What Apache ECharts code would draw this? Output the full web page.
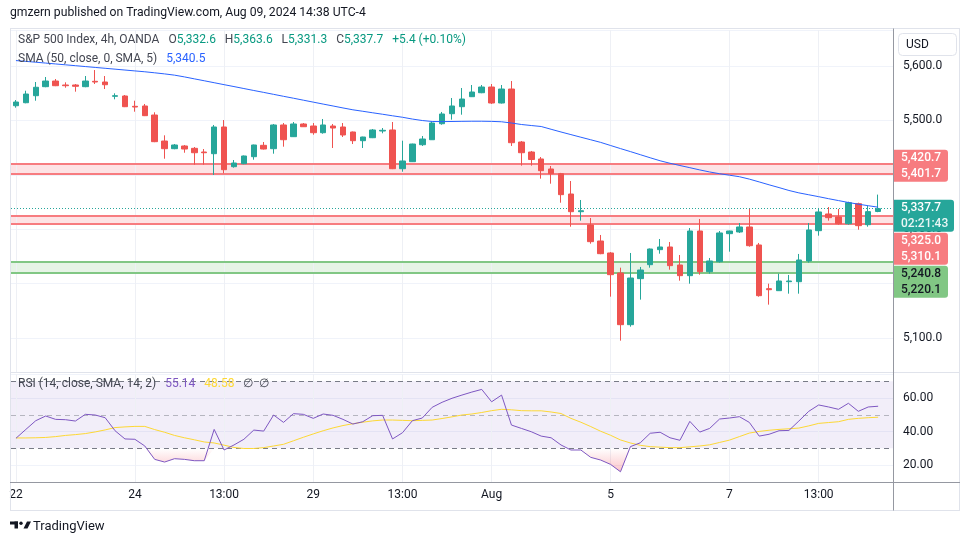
<!DOCTYPE html>
<html><head><meta charset="utf-8">
<script src="https://cdn.jsdelivr.net/npm/echarts@6/dist/echarts.min.js"></script>
<style>html,body{margin:0;padding:0;background:#fff;}#c{width:970px;height:545px;}</style>
</head><body><div id="c"></div>
<script>
// ---------- data ----------
const dayNames = ['Jul 22','Jul 23','Jul 24','Jul 25','Jul 26','Jul 29','Jul 30','Jul 31','Aug 1','Aug 2','Aug 5','Aug 6','Aug 7','Aug 8','Aug 9'];
const barHours = ['01:00','05:00','09:00','13:00','17:00','21:00'];

const opens = [5527.0,5532.5,5545.4,5562.0,5572.4,5565.1,5565.1,5562.0,5571.9,5570.6,
5544.3,5544.9,5525.9,5526.5,5509.9,5462.1,5448.0,5453.0,5448.7,5441.9,
5438.8,5487.9,5414.9,5420.4,5433.3,5454.2,5448.0,5491.6,5470.1,5493.4,
5489.7,5477.4,5489.7,5487.9,5478.7,5462.7,5468.2,5480.5,5482.4,5411.2,
5424.1,5455.3,5464.5,5493.9,5512.3,5525.2,5543.6,5550.9,5561.4,5532.0,
5557.7,5460.3,5441.9,5429.1,5410.7,5402.0,5364.7,5332.2,5307.8,5278.3,
5256.3,5219.5,5124.5,5209.1,5234.8,5262.4,5267.3,5234.2,5214.6,5296.7,
5221.9,5240.3,5291.8,5294.9,5304.1,5271.0,5190.7,5187.0,5203.5,5203.5,
5241.6,5297.3,5328.0,5322.5,5310.1,5346.9,5308.3,5332.6];
const highs = [5537.5,5554.6,5570.6,5579.8,5576.1,5570.0,5566.9,5581.6,5592.6,5581.6,
5549.8,5546.7,5536.2,5530.2,5514.9,5472.6,5456.6,5454.8,5451.1,5447.4,
5491.6,5500.7,5427.2,5435.5,5455.5,5460.3,5493.4,5495.2,5497.1,5495.2,
5495.2,5502.6,5493.4,5495.2,5479.5,5470.0,5484.2,5486.0,5497.1,5462.7,
5457.2,5471.3,5497.6,5515.5,5541.2,5559.6,5565.1,5565.1,5566.9,5565.1,
5572.4,5462.1,5443.8,5432.7,5416.2,5403.5,5388.6,5353.7,5320.6,5289.4,
5258.0,5229.3,5256.3,5230.6,5264.5,5282.0,5276.5,5252.6,5302.2,5318.8,
5247.1,5296.7,5297.2,5311.4,5337.2,5274.7,5199.9,5218.2,5215.9,5254.5,
5311.4,5339.0,5340.8,5337.2,5350.6,5348.7,5342.7,5363.6];
const lows = [5523.4,5531.5,5536.2,5561.0,5563.0,5560.1,5552.8,5561.0,5566.9,5557.7,
5538.8,5524.5,5516.0,5508.0,5460.0,5429.6,5447.0,5440.6,5418.6,5418.6,
5399.7,5402.8,5413.1,5419.5,5427.8,5446.5,5438.8,5451.7,5469.5,5488.0,
5473.7,5475.6,5449.3,5469.5,5456.6,5449.3,5467.5,5476.3,5410.5,5405.7,
5423.5,5453.0,5464.0,5492.1,5501.3,5510.5,5543.0,5550.0,5530.2,5531.0,
5453.0,5416.8,5416.8,5392.9,5383.7,5348.7,5304.6,5315.7,5273.4,5254.0,
5176.0,5095.1,5120.8,5170.5,5229.3,5255.0,5225.6,5205.4,5199.9,5216.4,
5218.2,5238.5,5258.7,5293.1,5267.9,5176.0,5161.3,5186.5,5181.5,5181.5,
5238.5,5288.1,5315.7,5308.3,5308.3,5299.1,5304.6,5331.3];
const closes = [5533.8,5548.5,5560.9,5572.4,5563.8,5563.8,5562.7,5572.4,5570.6,5565.6,
5545.4,5525.2,5524.6,5508.7,5460.9,5448.0,5454.8,5447.4,5440.6,5440.6,
5487.9,5409.4,5421.7,5434.6,5454.8,5447.4,5491.6,5464.5,5493.4,5488.4,
5477.4,5491.6,5486.0,5473.2,5462.7,5469.5,5482.4,5481.8,5411.2,5425.4,
5456.6,5465.8,5495.2,5511.8,5526.5,5539.3,5552.2,5561.4,5532.0,5557.7,
5459.0,5440.6,5428.1,5407.6,5402.0,5363.5,5332.2,5334.0,5277.1,5255.0,
5216.4,5124.5,5210.3,5225.0,5263.6,5267.3,5233.0,5214.6,5296.7,5221.9,
5241.6,5293.1,5296.7,5304.1,5269.7,5177.8,5188.8,5204.8,5204.8,5243.4,
5298.6,5331.7,5321.2,5310.1,5348.7,5306.5,5332.3,5337.7];
const sma50 = [5610.0,5608.5,5607.0,5605.4,5603.8,5602.2,5600.6,5599.0,5597.4,5595.8,
5594.2,5592.6,5591.0,5589.4,5587.5,5585.5,5583.2,5580.0,5576.4,5572.9,
5569.3,5565.7,5562.2,5558.6,5555.0,5551.5,5547.9,5544.3,5540.8,5537.2,
5533.6,5530.0,5526.5,5522.9,5519.5,5516.8,5514.0,5511.3,5508.5,5505.8,
5502.5,5499.8,5498.0,5497.8,5498.0,5498.3,5498.5,5498.5,5498.2,5497.5,
5495.2,5492.5,5490.6,5488.8,5483.7,5478.7,5473.9,5469.1,5464.4,5459.6,
5453.9,5448.2,5442.7,5437.0,5431.3,5425.8,5421.2,5417.1,5413.1,5409.0,
5405.2,5402.0,5399.3,5396.5,5392.1,5386.9,5381.6,5376.5,5371.2,5366.8,
5363.3,5359.8,5356.1,5352.6,5349.1,5346.0,5343.2,5340.5];
const rsi = [36.0,41.3,46.5,49.3,47.3,47.1,46.3,50.3,49.9,48.3,
40.5,35.6,35.4,31.4,23.4,21.8,23.8,23.4,22.6,22.6,
41.3,29.0,32.0,35.4,40.9,40.3,49.9,45.5,50.7,50.3,
47.9,50.5,49.7,47.3,44.5,45.9,49.5,49.7,35.6,39.3,
46.5,48.1,54.5,57.5,59.9,61.8,63.6,65.2,57.8,61.8,
43.9,41.9,39.9,37.3,36.3,32.0,29.0,29.0,24.6,23.0,
20.4,16.0,31.0,33.3,39.0,39.6,36.3,34.8,46.1,39.7,
41.9,47.5,48.1,48.9,45.5,37.3,38.4,40.5,40.7,46.3,
52.1,55.9,54.7,53.3,56.9,52.1,54.7,55.14];
const rsiMA = [36.2,36.2,36.3,36.5,37.0,37.7,38.2,38.8,39.8,41.0,
42.4,42.8,43.1,43.1,41.2,39.6,37.7,36.3,35.1,33.8,
33.2,31.9,30.5,29.9,29.9,30.4,31.4,32.4,34.5,36.6,
38.6,40.5,42.2,43.6,44.7,45.6,46.4,46.9,46.9,46.7,
46.5,46.7,46.9,47.8,48.8,49.9,50.5,51.4,52.5,53.3,
53.0,52.5,52.4,52.4,51.7,50.8,47.9,45.6,43.0,40.2,
37.8,35.0,33.2,31.8,31.0,30.7,30.4,30.4,30.9,31.4,
32.1,33.5,34.9,37.0,39.1,40.1,40.8,41.3,41.7,42.1,
43.4,44.9,45.4,45.9,47.3,47.9,48.3,48.58];

const tickIndex = [0,12,21,30,39,48,60,72,81];
const tickText = ['22','24','13:00','29','13:00','Aug','5','7','13:00'];
const resistanceZone = [5401.7, 5420.7];
const supportZone1 = [5310.1, 5325.0];
const supportZone2 = [5220.1, 5240.8];
const rsiLevels = [70, 50, 30];
const countdown = '02:21:43';

// ---------- build ----------
const categories = [];
for (const d of dayNames) for (const h of barHours) if (categories.length < opens.length) categories.push(d + ' ' + h);
categories.push('');
const n = opens.length;
const lastPrice = closes[n - 1];
const candleData = opens.map((o, i) => [o, closes[i], lows[i], highs[i]]);
const osBase = rsi.map(v => Math.min(v, 30));
const osFill = rsi.map(v => +(30 - Math.min(v, 30)).toFixed(2));

const FONT = 'Roboto, "Noto Sans", sans-serif';
const fmtP = v => v.toLocaleString('en-US', {minimumFractionDigits: 1, maximumFractionDigits: 1});
const GREEN = '#26a69a', RED = '#ef5350', ZRED = '#f77c80', ZGREEN = '#81c784';

const vGrid = tickIndex.map(i => ({xAxis: categories[i], lineStyle: {color: '#eef0f5', width: 1, type: 'solid'}}));
const zoneLines = (z, c) => z.map(v => ({yAxis: v, lineStyle: {color: c, width: 2, type: 'solid'}}));

const chart = echarts.init(document.getElementById('c'), null, {renderer: 'canvas'});
const option = {
  animation: false,
  backgroundColor: '#ffffff',
  textStyle: {fontFamily: FONT},
  grid: [
    {left: 11, top: 30, width: 882, height: 342},
    {left: 11, top: 374, width: 882, height: 108.3}
  ],
  xAxis: [
    {gridIndex: 0, type: 'category', data: categories, boundaryGap: true,
     axisLine: {show: false}, axisTick: {show: false}, axisLabel: {show: false}, splitLine: {show: false}},
    {gridIndex: 1, type: 'category', data: categories, boundaryGap: true,
     axisLine: {show: false}, axisTick: {show: false}, splitLine: {show: false},
     axisLabel: {interval: (idx) => tickIndex.includes(idx), formatter: (v, idx) => tickText[tickIndex.indexOf(idx)] || '',
       color: '#131722', fontSize: 12, margin: 7, fontFamily: FONT}}
  ],
  yAxis: [
    {gridIndex: 0, type: 'value', position: 'right', min: 5037.5, max: 5666.2, splitNumber: 6,
     axisLine: {show: false}, axisTick: {show: false},
     axisLabel: {color: '#131722', fontSize: 12, margin: 10, fontFamily: FONT, formatter: v => fmtP(v), showMinLabel: false, showMaxLabel: false},
     splitLine: {lineStyle: {color: '#f0f3fa', width: 1}}},
    {gridIndex: 1, type: 'value', position: 'right', min: 9.7, max: 74.4, splitNumber: 3,
     axisLine: {show: false}, axisTick: {show: false},
     axisLabel: {color: '#131722', fontSize: 12, margin: 10, fontFamily: FONT, formatter: v => v.toFixed(2), showMinLabel: false, showMaxLabel: false},
     splitLine: {lineStyle: {color: '#f0f3fa', width: 1}}}
  ],
  series: [
    {type: 'candlestick', name: 'S&P 500', xAxisIndex: 0, yAxisIndex: 0, data: candleData, barWidth: 6, z: 3,
     itemStyle: {color: GREEN, color0: RED, borderColor: GREEN, borderColor0: RED, borderWidth: 1},
     markArea: {silent: true, z: 1, data: [
       [{yAxis: resistanceZone[0], itemStyle: {color: 'rgba(242,54,69,0.14)'}}, {yAxis: resistanceZone[1]}],
       [{yAxis: supportZone1[0], itemStyle: {color: 'rgba(242,54,69,0.14)'}}, {yAxis: supportZone1[1]}],
       [{yAxis: supportZone2[0], itemStyle: {color: 'rgba(76,175,80,0.14)'}}, {yAxis: supportZone2[1]}]
     ]},
     markLine: {silent: true, z: 1, symbol: ['none', 'none'], label: {show: false}, data: [
       ...vGrid,
       ...zoneLines(resistanceZone, ZRED), ...zoneLines(supportZone1, ZRED), ...zoneLines(supportZone2, ZGREEN),
       {yAxis: lastPrice, lineStyle: {color: GREEN, width: 1, type: [1, 2]}}
     ]}},
    {type: 'line', name: 'SMA 50', xAxisIndex: 0, yAxisIndex: 0, data: sma50, symbol: 'none', z: 4,
     lineStyle: {color: '#2962ff', width: 1}},
    {type: 'line', name: 'RSI', xAxisIndex: 1, yAxisIndex: 1, data: rsi, symbol: 'none', z: 5,
     lineStyle: {color: '#7e57c2', width: 1},
     markArea: {silent: true, z: 1, data: [[{yAxis: 30, itemStyle: {color: 'rgba(126,87,194,0.1)'}}, {yAxis: 70}]]},
     markLine: {silent: true, z: 2, symbol: ['none', 'none'], label: {show: false}, data: [
       ...vGrid,
       {yAxis: rsiLevels[0], lineStyle: {color: '#787b86', width: 1, type: [5, 4]}},
       {yAxis: rsiLevels[1], lineStyle: {color: 'rgba(120,123,134,0.5)', width: 1, type: [5, 4]}},
       {yAxis: rsiLevels[2], lineStyle: {color: '#787b86', width: 1, type: [5, 4]}}
     ]}},
    {type: 'line', name: 'RSI MA', xAxisIndex: 1, yAxisIndex: 1, data: rsiMA, symbol: 'none', z: 4,
     lineStyle: {color: '#fdd835', width: 1}},
    {type: 'line', name: 'osBase', xAxisIndex: 1, yAxisIndex: 1, data: osBase, stack: 'os', symbol: 'none', z: 3,
     lineStyle: {opacity: 0}, silent: true},
    {type: 'line', name: 'osFill', xAxisIndex: 1, yAxisIndex: 1, data: osFill, stack: 'os', symbol: 'none', z: 3,
     lineStyle: {opacity: 0}, silent: true, areaStyle: {color: 'rgba(242,54,69,0.2)'}}
  ]
};
chart.setOption(option);

// ---------- overlays ----------
const py = v => chart.convertToPixel({yAxisIndex: 0}, v);
const ry = v => chart.convertToPixel({yAxisIndex: 1}, v);
const y30 = ry(30), y0 = ry(0);

const tags = [
  {lines: [fmtP(resistanceZone[1]), fmtP(resistanceZone[0])], bg: ZRED, fg: '#ffffff', w: 54, center: (py(resistanceZone[0]) + py(resistanceZone[1])) / 2 - 3},
  {lines: [fmtP(lastPrice), countdown], bg: GREEN, fg: '#ffffff', w: 60, center: py(lastPrice) + 7, fixed: true},
  {lines: [fmtP(supportZone1[1]), fmtP(supportZone1[0])], bg: ZRED, fg: '#ffffff', w: 54, center: (py(supportZone1[0]) + py(supportZone1[1])) / 2 - 3},
  {lines: [fmtP(supportZone2[1]), fmtP(supportZone2[0])], bg: ZGREEN, fg: '#131722', w: 54, center: (py(supportZone2[0]) + py(supportZone2[1])) / 2 - 3}
];
const H = 32;
let prevBottom = -1e9;
const tagEls = [];
tags.forEach(t => {
  let top = t.center - H / 2;
  if (top < prevBottom + 1) top = prevBottom + 1;
  prevBottom = top + H;
  tagEls.push({type: 'rect', z: 100, shape: {x: 894, y: top, width: t.w, height: H, r: [0, 3, 3, 0]}, style: {fill: t.bg}});
  t.lines.forEach((s, k) => tagEls.push({type: 'text', z: 101, x: 901, y: top + 8.5 + k * 16,
    style: {text: s, fill: t.fg, font: '500 12px ' + FONT, verticalAlign: 'middle', opacity: (t.fixed && k === 1) ? 0.9 : 1}}));
});

const chg = closes[n - 1] - closes[n - 2];
const pct = chg / closes[n - 2] * 100;
const sgn = chg >= 0 ? '+' : '';
const line = (x1, y1, x2, y2, c) => ({type: 'line', z: 90, shape: {x1, y1, x2, y2}, style: {stroke: c, lineWidth: 1}});
const LF = '12px ' + FONT;
const G = '   ';

chart.setOption({
  series: [{}, {}, {}, {}, {}, {
    areaStyle: {color: {type: 'linear', x: 0, y: y30, x2: 0, y2: y0, global: true,
      colorStops: [{offset: 0, color: 'rgba(242,54,69,0)'}, {offset: 1, color: 'rgba(242,54,69,0.9)'}]}}
  }],
  graphic: [
    line(10.5, 28.5, 10.5, 510.5, '#e0e3eb'),
    line(10, 28.5, 960, 28.5, '#e0e3eb'),
    line(959.5, 28.5, 959.5, 510.5, '#e0e3eb'),
    line(10, 510.5, 960, 510.5, '#e0e3eb'),
    line(10, 372.5, 960, 372.5, '#e0e3eb'),
    line(893.5, 28.5, 893.5, 510.5, '#9598a1'),
    line(10, 482.5, 960, 482.5, '#9598a1'),
    {type: 'text', z: 110, x: 10, y: 13, style: {text: 'gmzern published on TradingView.com, Aug 09, 2024 14:38 UTC-4', fill: '#131722', font: '12.2px ' + FONT, verticalAlign: 'middle'}},
    {type: 'text', z: 110, x: 18, y: 40, style: {
      text: '{t|S&P 500 Index, 4h, OANDA}' + G + '{k|O}{v|' + fmtP(opens[n-1]) + '}' + G + '{k|H}{v|' + fmtP(highs[n-1]) + '}' + G + '{k|L}{v|' + fmtP(lows[n-1]) + '}' + G + '{k|C}{v|' + fmtP(closes[n-1]) + '}' + G + '{v|' + sgn + chg.toFixed(1) + ' (' + sgn + pct.toFixed(2) + '%)}',
      verticalAlign: 'middle', font: LF,
      rich: {t: {fill: '#434651', font: LF}, k: {fill: '#434651', font: LF}, v: {fill: '#089981', font: LF}}}},
    {type: 'text', z: 110, x: 18, y: 59, style: {
      text: '{t|SMA (50, close, 0, SMA, 5)}' + G + '{b|' + fmtP(sma50[n-1]) + '}', verticalAlign: 'middle', font: LF,
      rich: {t: {fill: '#434651', font: LF}, b: {fill: '#2962ff', font: LF}}}},
    {type: 'text', z: 110, x: 18, y: 384, style: {
      text: '{t|RSI (14, close, SMA, 14, 2)}' + G + '{p|' + rsi[n-1].toFixed(2) + '}' + G + '{y|' + rsiMA[n-1].toFixed(2) + '}' + G + '{t|∅  ∅}', verticalAlign: 'middle', font: LF,
      rich: {t: {fill: '#434651', font: LF}, p: {fill: '#7e57c2', font: LF}, y: {fill: '#fdd835', font: LF}}}},
    {type: 'rect', z: 100, shape: {x: 898.5, y: 33.5, width: 58, height: 22, r: 4}, style: {fill: '#ffffff', stroke: '#e0e3eb', lineWidth: 1}},
    {type: 'text', z: 101, x: 906, y: 44.5, style: {text: 'USD', fill: '#131722', font: '12px ' + FONT, verticalAlign: 'middle'}},
    ...tagEls,
    {type: 'rect', z: 110, shape: {x: 10, y: 521.5, width: 8, height: 3}, style: {fill: '#131722'}},
    {type: 'rect', z: 110, shape: {x: 14.5, y: 521.5, width: 3.5, height: 7}, style: {fill: '#131722'}},
    {type: 'circle', z: 110, shape: {cx: 21, cy: 523.2, r: 1.7}, style: {fill: '#131722'}},
    {type: 'polygon', z: 110, shape: {points: [[23.5, 528.5], [27, 521.5], [31, 521.5], [27.5, 528.5]]}, style: {fill: '#131722'}},
    {type: 'text', z: 110, x: 33, y: 527, style: {text: 'TradingView', fill: '#131722', font: '13px ' + FONT, verticalAlign: 'middle'}}
  ]
});
</script></body></html>
